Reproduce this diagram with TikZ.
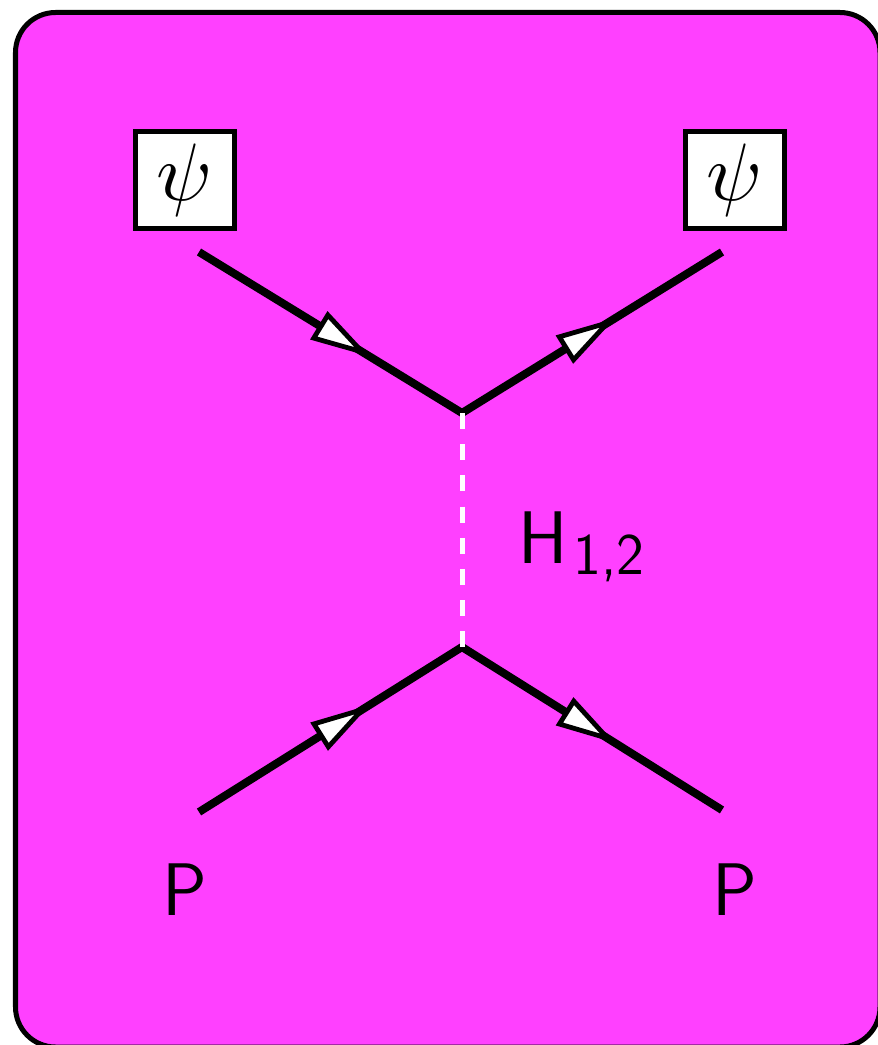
\documentclass[tikz,border=0pt]{standalone}
\usepackage{amsmath,amssymb}
\usepackage{graphicx}
\usetikzlibrary{decorations.markings,arrows.meta}
\definecolor{bgmagenta}{RGB}{255,64,255}
\tikzset{
  fieldbox/.style={
    draw,
    fill = white,
    line width = 0.125cm,
    minimum width = 2.475cm,
    minimum height = 2.4cm,
    inner sep = 0pt
  },
  biglabel/.style={
    inner sep = 0pt,
    font = \fontsize{53}{64}\selectfont\sffamily
  },
  fermion/.style={
    line width = 0.2cm,
    postaction = {decorate},
    decoration = {markings,
      mark = at position #1 with {\arrow{Triangle[length=1.5cm, width=0.8cm, fill=white, line width=0.12cm]}}}
  },
  exchange/.style={
    white,
    line width = 0.125cm,
    dash pattern = on 0.4cm off 0.38cm
  }
}
\newcommand{\bigpsi}{\scalebox{5.8}{$\psi$}}
\begin{document}
\begin{tikzpicture}[x=0.025cm, y=-0.025cm]
  \useasboundingbox (0,0) rectangle (878,1045);
  \draw[line width=0.125cm, rounded corners=1cm, fill=bgmagenta] (15.5,12.5) rectangle (880,1047);
  % fields on top
  \node[fieldbox] (psiL) at (185,180) {\bigpsi};
  \node[fieldbox] (psiR) at (735,180) {\bigpsi};
  % vertices and free ends
  \coordinate (vtop) at (462,413);
  \coordinate (vbot) at (462,647);
  \coordinate (inL) at (199,252);
  \coordinate (inR) at (722,252);
  \coordinate (outL) at (199,812);
  \coordinate (outR) at (722,810);
  \draw[fermion=0.65] (inL) -- (vtop);
  \draw[fermion=0.59] (vtop) -- (inR);
  \draw[fermion=0.65] (outL) -- (vbot);
  \draw[fermion=0.59] (vbot) -- (outR);
  \draw[exchange] (vtop) -- (vbot);
  % labels
  \node[biglabel, anchor=base west] (hlab) at (518,563)
    {H\kern0.08em\raisebox{-0.28cm}{\fontsize{42}{48}\selectfont 1,2}};
  \node[biglabel] (pL) at (185,890) {P};
  \node[biglabel] (pR) at (735,890) {P};
\end{tikzpicture}
\end{document}
